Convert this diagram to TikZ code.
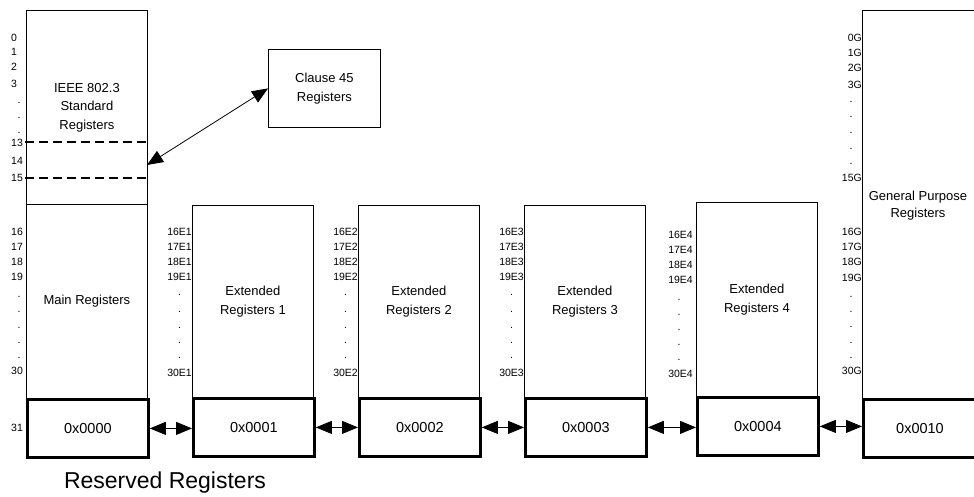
\documentclass[tikz,border=0pt]{standalone}
\usepackage{fontspec}
\setmainfont{Liberation Sans}
\usetikzlibrary{arrows.meta}
\begin{document}
\begin{tikzpicture}[x=1pt,y=-1pt,
  regbox/.style={draw, line width=0.8pt, inner sep=0pt, anchor=north west, align=center,
    minimum width=121pt, font=\fontsize{13}{18.5}\selectfont},
  addrbox/.style={draw, line width=2.8pt, inner sep=0pt, anchor=north west,
    minimum width=121pt, minimum height=58pt, font=\fontsize{14.5}{16}\selectfont},
  num/.style={inner sep=0pt, font=\fontsize{10.5}{12}\selectfont},
  dashsep/.style={line width=1.8pt, dash pattern=on 9pt off 5pt},
  biarrow/.style={line width=0.8pt, {Triangle[length=16pt,width=13pt]}-{Triangle[length=16pt,width=13pt]}}
]
\useasboundingbox (0,0) rectangle (974,496);

% ---- left column ----
\node[regbox, minimum height=194pt] (ieee) at (26,10) {IEEE 802.3\\Standard\\Registers};
\node[regbox, minimum height=194pt] (main) at (26,204) {Main Registers};
\node[addrbox] (b0) at (26,398) {0x0000};
\coordinate (d1a) at (25,142); \coordinate (d1b) at (147,142);
\coordinate (d2a) at (25,178); \coordinate (d2b) at (147,178);
\draw[dashsep] (d1a) -- (d1b);
\draw[dashsep] (d2a) -- (d2b);
\foreach \t/\y in {0/38,1/52,2/67,3/84,13/143,14/161,15/178,16/232,17/247,18/262,19/277,30/371,31/428}
  \node[num, anchor=west] (l\t) at (11,\y) {\t};
\foreach \y [count=\i] in {103,118,133,297,312,328,343,358}
  \node[num] (ld\i) at (19,\y) {.};

% ---- clause 45 ----
\node[regbox, minimum width=112pt, minimum height=78pt] (cl) at (268,49) {Clause 45\\Registers};
\coordinate (clt) at (147,165);
\draw[biarrow] (clt) -- (cl.west);

% ---- extended columns ----
\foreach \c/\bx in {1/192,2/358,3/524} {
  \node[regbox, minimum height=192pt] (ext\c) at (\bx,205) {Extended\\Registers \c};
  \node[addrbox] (b\c) at (\bx,397) {0x000\c};
  \foreach \t/\y in {16/232,17/247,18/262,19/277,30/373}
    \node[num, anchor=east] (e\c l\t) at (\bx,\y) {\t E\c};
  \foreach \y [count=\i] in {295,312,328,343,358}
    \node[num] (e\c d\i) at (\bx-12.5,\y) {.};
}
\node[regbox, minimum height=194pt] (ext4) at (696,202) {Extended\\Registers 4};
\node[addrbox] (b4) at (696,396) {0x0004};
\foreach \t/\y in {16/235,17/250,18/265,19/280,30/374}
  \node[num, anchor=east] (e4l\t) at (693,\y) {\t E4};
\foreach \y [count=\i] in {300,315,330,345,360}
  \node[num] (e4d\i) at (679,\y) {.};

% ---- general purpose ----
\node[regbox, minimum width=124pt, minimum height=388pt] (gp) at (862,10) {};
\node[font=\fontsize{13}{17}\selectfont, align=center, inner sep=0pt] (gpt) at (918,206) {General Purpose\\Registers};
\node[addrbox, minimum width=124pt] (b5) at (862,398) {};
\node[font=\fontsize{14.5}{16}\selectfont, inner sep=0pt] (b5t) at (920,428) {0x0010};
\foreach \t/\y in {0/38,1/53,2/68,3/85,15/178,16/232,17/247,18/262,19/278,30/371}
  \node[num, anchor=east] (g\t) at (862,\y) {\t G};
\foreach \y [count=\i] in {102,117,133,149,164,297,312,327,343,358}
  \node[num] (gd\i) at (851,\y) {.};

% ---- bottom arrows ----
\draw[biarrow] (b0.east) -- (b0.east -| b1.west);
\draw[biarrow] (b1.east) -- (b1.east -| b2.west);
\draw[biarrow] (b2.east) -- (b2.east -| b3.west);
\draw[biarrow] (b3.east) -- (b3.east -| b4.west);
\draw[biarrow] (b4.east) -- (b4.east -| b5.west);

\node[font=\fontsize{23}{26}\selectfont, anchor=base, inner sep=0pt] (res) at (165,488) {Reserved Registers};
\end{tikzpicture}
\end{document}
